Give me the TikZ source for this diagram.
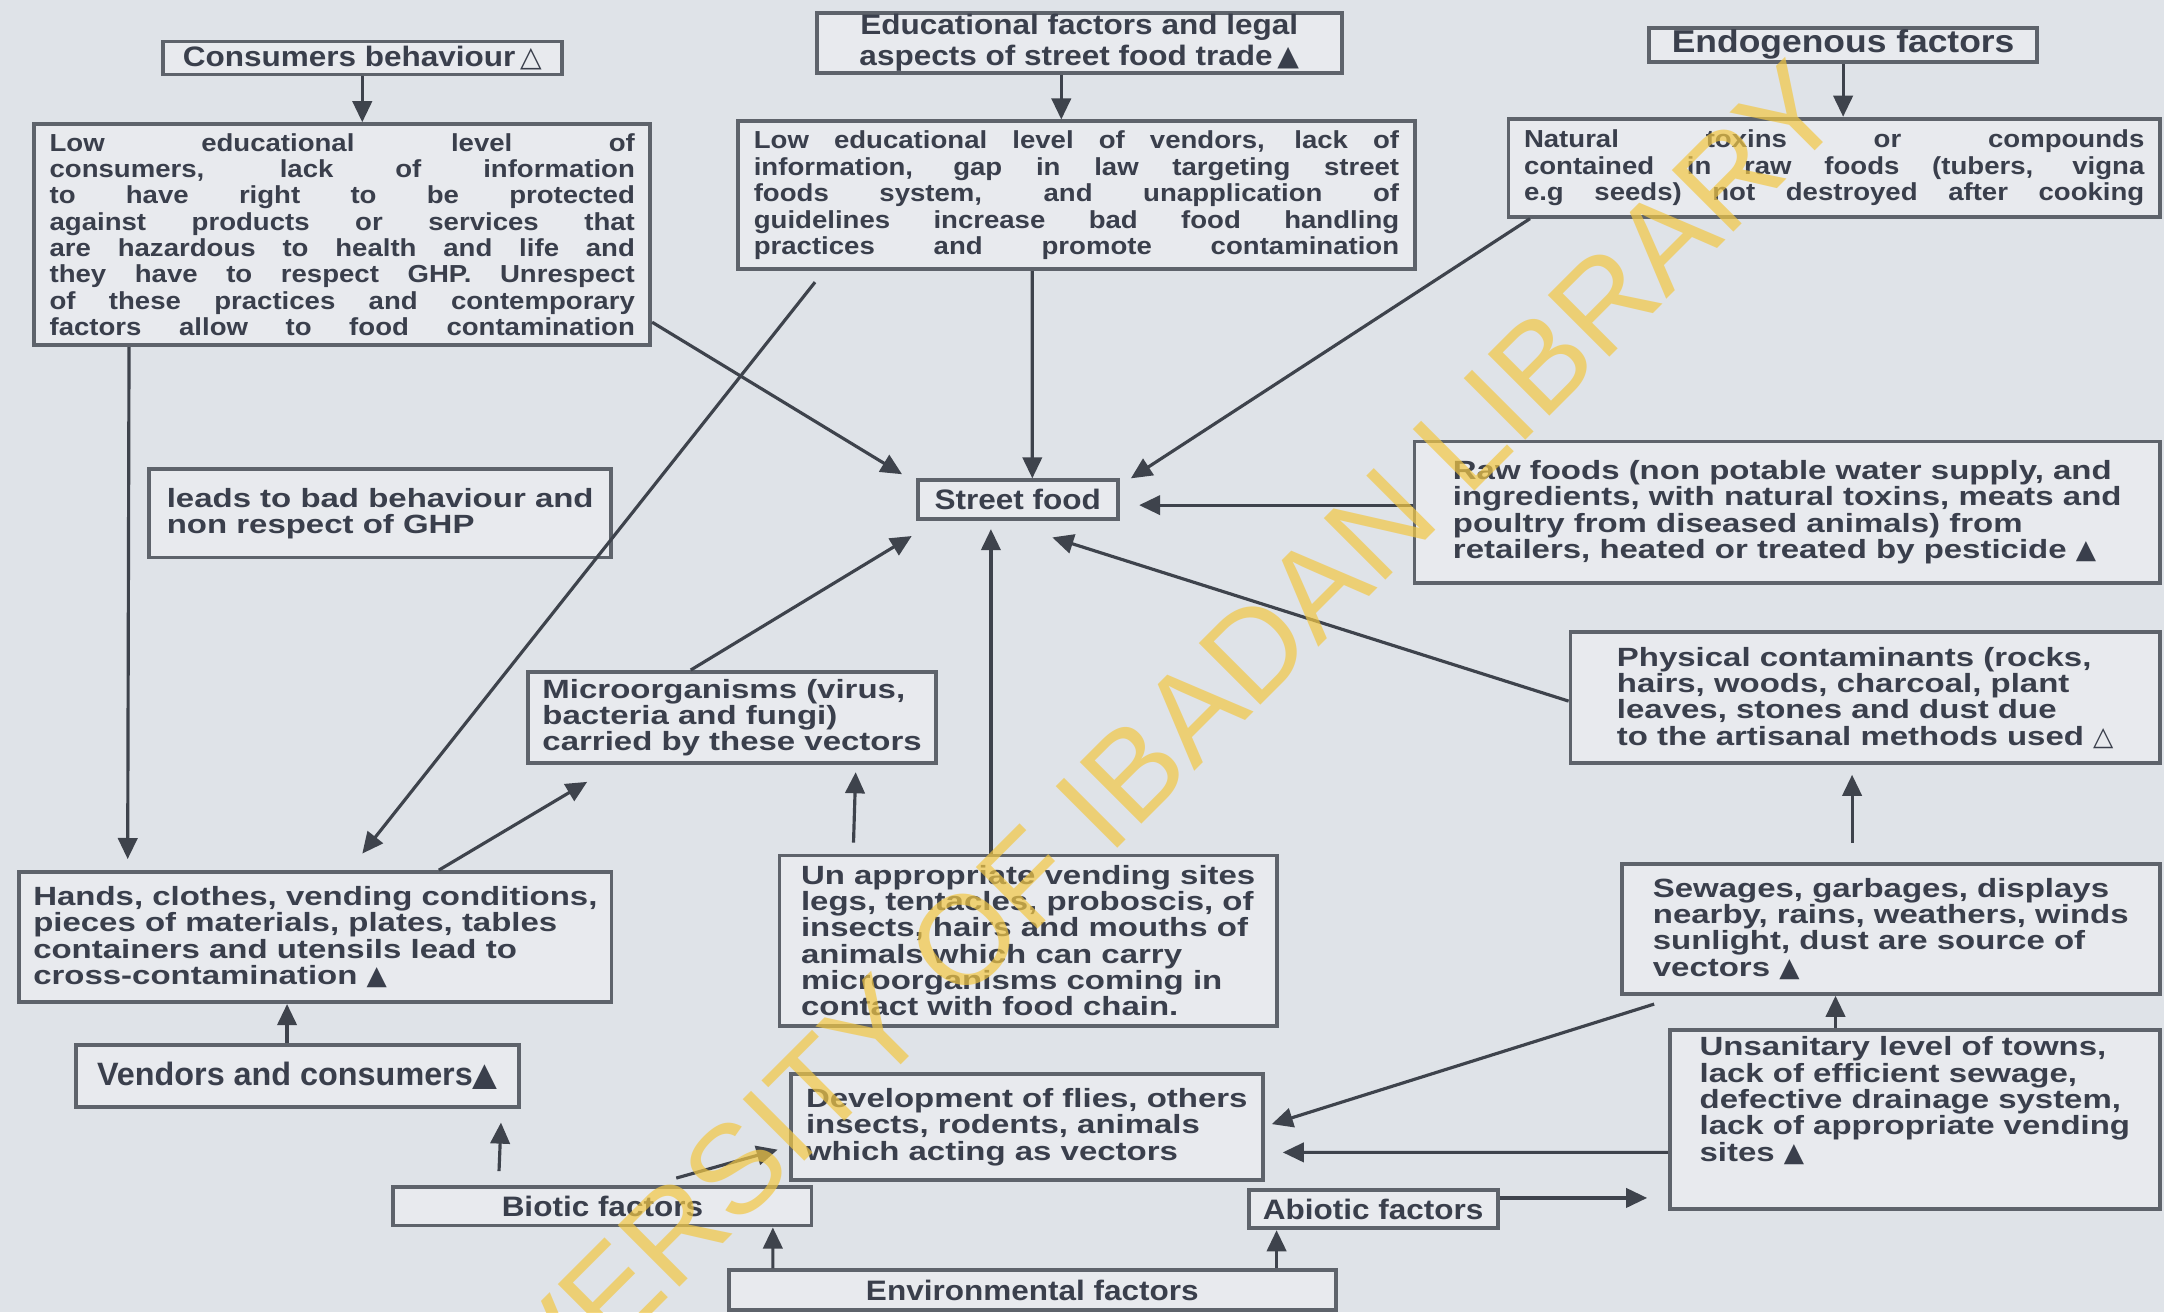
\documentclass[tikz,border=0pt]{standalone}
\usepackage{fontspec}
\setmainfont{Liberation Sans}
\newfontfamily\bodyf[FakeStretch=1.12]{Liberation Sans}
\newfontfamily\bodyw[FakeStretch=1.25]{Liberation Sans}
\newfontfamily\symf{DejaVu Sans}
\newcommand\ftri{{\symf ▲}}
\newcommand\otri{{\symf △}}
\usetikzlibrary{arrows.meta,calc}
\definecolor{bgc}{HTML}{DFE3E8}
\definecolor{boxf}{HTML}{E8EAEE}
\definecolor{boxc}{HTML}{5E636B}
\definecolor{txtc}{HTML}{3A3F4C}
\definecolor{arrc}{HTML}{3E434C}
\definecolor{wmc}{HTML}{F2C744}
\newcommand\jl[2]{\makebox[#1][s]{#2}}
\begin{document}
\begin{tikzpicture}[x=0.0138cm,y=-0.0138cm,
  mybox/.style={draw=boxc,line width=1.1pt,fill=boxf,inner xsep=4pt,inner ysep=2pt,text=txtc,
    font=\bodyw\bfseries\fontsize{7.5}{7.5}\selectfont,align=left},
  jbox/.style={mybox,font=\bodyf\bfseries\fontsize{7}{7.5}\selectfont},
  mylbl/.style={mybox,inner ysep=0.5pt,font=\bodyf\bfseries\fontsize{8}{8.6}\selectfont,align=center},
  myarr/.style={draw=arrc,line width=0.9pt,-{Triangle[length=6pt,width=5.5pt]}},
]
\fill[bgc] (0,0) rectangle (1568,951);
\useasboundingbox (0,0) rectangle (1568,951);

% top row
\node[mylbl,minimum width=3.99cm,minimum height=0.33cm] (consbeh) at (262.5,42) {Consumers behaviour\,\otri};
\node[jbox,minimum width=6.155cm,minimum height=2.208cm] (conslow) at (248,170) {%
\jl{5.85cm}{Low educational level of}\\
\jl{5.85cm}{consumers, lack of information}\\
\jl{5.85cm}{to have right to be protected}\\
\jl{5.85cm}{against products or services that}\\
\jl{5.85cm}{are hazardous to health and life and}\\
\jl{5.85cm}{they have to respect GHP. Unrespect}\\
\jl{5.85cm}{of these practices and contemporary}\\
\jl{5.85cm}{factors allow to food contamination}};

\node[mylbl,minimum width=5.244cm,minimum height=0.58cm] (edufac) at (782,31) {Educational factors and legal\\aspects of street food trade\,\ftri};
\node[jbox,minimum width=6.76cm,minimum height=1.477cm] (vendlow) at (780,141.5) {%
\jl{6.45cm}{Low educational level of vendors, lack of}\\
\jl{6.45cm}{information, gap in law targeting street}\\
\jl{6.45cm}{foods system, and unapplication of}\\
\jl{6.45cm}{guidelines increase bad food handling}\\
\jl{6.45cm}{practices and promote contamination}};

\node[mylbl,minimum width=3.88cm,minimum height=0.345cm,font=\bodyf\bfseries\fontsize{9}{9}\selectfont] (endo) at (1335.5,32.5) {Endogenous factors};
\node[jbox,minimum width=6.51cm,minimum height=0.98cm] (nat) at (1329,121.5) {%
\jl{6.2cm}{Natural toxins or compounds}\\
\jl{6.2cm}{contained in raw foods (tubers, vigna}\\
\jl{6.2cm}{e.g seeds) not destroyed after cooking}};

% middle
\node[mylbl,minimum width=2.0cm,minimum height=0.386cm] (street) at (737.5,362) {Street food};
\node[mybox,minimum width=7.45cm,minimum height=1.41cm] (raw) at (1295,371) {Raw foods (non potable water supply, and\\ingredients, with natural toxins, meats and\\poultry from diseased animals) from\\retailers, heated or treated by pesticide \ftri};
\node[mybox,minimum width=4.62cm,minimum height=0.88cm] (leads) at (275.5,372) {leads to bad behaviour and\\non respect of GHP};
\node[mybox,minimum width=4.04cm,minimum height=0.83cm] (micro) at (530.5,520) {Microorganisms (virus,\\bacteria and fungi)\\carried by these vectors};
\node[mybox,minimum width=5.89cm,minimum height=1.31cm] (phys) at (1351.5,505.5) {Physical contaminants (rocks,\\hairs, woods, charcoal, plant\\leaves, stones and dust due\\to the artisanal methods used \otri};

% lower
\node[mybox,minimum width=5.89cm,minimum height=1.30cm] (hands) at (228.5,679) {Hands, clothes, vending conditions,\\pieces of materials, plates, tables\\containers and utensils lead to\\cross-contamination \ftri};
\node[mybox,minimum width=4.97cm,minimum height=1.70cm] (unapp) at (745,681.5) {Un appropriate vending sites\\legs, tentacles, proboscis, of\\insects, hairs and mouths of\\animals which can carry\\microorganisms coming in\\contact with food chain.};
\node[mybox,minimum width=5.38cm,minimum height=1.30cm] (sew) at (1370,673) {Sewages, garbages, displays\\nearby, rains, weathers, winds\\sunlight, dust are source of\\vectors \ftri};
\node[mybox,minimum width=4.90cm,minimum height=1.63cm] (unsan) at (1387.5,811) {Unsanitary level of towns,\\lack of efficient sewage,\\defective drainage system,\\lack of appropriate vending\\sites \ftri\\[4pt]};
\node[mybox,minimum width=4.43cm,minimum height=0.62cm,font=\bfseries\fontsize{9.2}{10}\selectfont] (vc) at (215.5,779.5) {Vendors and consumers\ftri};
\node[mybox,minimum width=4.72cm,minimum height=1.06cm] (flies) at (744,816.5) {Development of flies, others\\insects, rodents, animals\\which acting as vectors};
\node[mylbl,minimum width=4.18cm,minimum height=0.386cm] (biotic) at (436.5,874) {Biotic factors};
\node[mylbl,minimum width=2.48cm,minimum height=0.386cm] (abiotic) at (995,876) {Abiotic factors};
\node[mylbl,minimum width=6.07cm,minimum height=0.40cm] (env) at (748,935) {Environmental factors};

% connectors
\draw[myarr] (consbeh.south) -- (consbeh.south |- conslow.north);
\draw[myarr] ($(edufac.south)+(-13,0)$) -- ($(vendlow.north)+(-11,0)$);
\draw[myarr] (endo.south) -- (endo.south |- nat.north);
\draw[myarr] ($(conslow.south east)+(0,-18)$) -- ($(street.north west)+(-10,-3)$);
\draw[myarr] ($(vendlow.south)+(-32,0)$) -- ($(street.north)+(10.5,0)$);
\draw[myarr] ($(nat.south west)+(17,0)$) -- ($(street.north east)+(8,0)$);
\draw[myarr] ($(raw.west)+(0,-5)$) -- ($(street.east)+(14,4)$);
\draw[myarr] ($(phys.west)+(0,2.5)$) -- ($(street.south)+(25,12)$);
\draw[myarr] ($(micro.north)+(-30,0)$) -- ($(street.south west)+(-3,11)$);
\draw[myarr] ($(unapp.north)+(-27,0)$) -- ($(street.south)+(-19.5,6)$);
\draw[myarr] ($(conslow.south west)+(70,0)$) -- ($(hands.north west)+(80,-8)$);
\draw[myarr] ($(vendlow.south west)+(57,8)$) -- ($(hands.north west)+(250,-12)$);
\draw[myarr] ($(hands.north)+(89.5,0)$) -- ($(micro.south west)+(44,12)$);
\draw[myarr] ($(unapp.north west)+(55,-8)$) -- ($(micro.south)+(89.5,5)$);
\draw[myarr] ($(vc.north)+(-7.5,0)$) -- ($(hands.south)+(-20.5,0)$);
\draw[myarr] ($(biotic.north west)+(78,-10)$) -- ($(vc.south)+(147.5,10)$);
\draw[myarr] ($(biotic.north)+(53.5,-5)$) -- ($(flies.west)+(-8,16.5)$);
\draw[myarr] ($(env.north)+(-188,0)$) -- ($(biotic.south)+(123.5,0)$);
\draw[myarr] ($(env.north)+(177,0)$) -- ($(abiotic.south)+(-70,0)$);
\draw[myarr] ($(sew.south west)+(25,6)$) -- ($(flies.east)+(5,-2)$);
\draw[myarr] ($(unsan.west)+(0,24)$) -- ($(flies.east)+(13,18.5)$);
\draw[myarr] ($(abiotic.east)+(0,-8)$) -- ($(unsan.west)+(-15,57)$);
\draw[myarr] ($(unsan.north)+(-57.5,0)$) -- ($(sew.south)+(-40,0)$);
\draw[myarr] ($(sew.north)+(-28,-14)$) -- ($(phys.south)+(-9.5,7)$);

% watermark
\node[rotate=45,text=wmc,opacity=0.7,font=\fontsize{36}{36}\selectfont] (wm) at (792,588) {UNIVERSITY OF IBADAN LIBRARY};
\end{tikzpicture}
\end{document}
